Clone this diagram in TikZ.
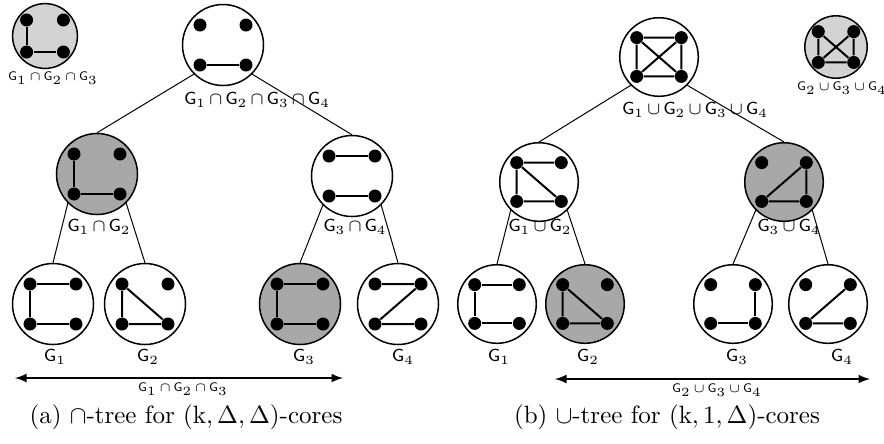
\documentclass[tikz,border=0pt]{standalone}
\usepackage{tikz}
\usetikzlibrary{arrows,calc}
\usepackage{amssymb}
\usepackage{amsmath}
\definecolor{lightcore}{RGB}{211,211,211}
\definecolor{darkcore}{RGB}{168,168,168}
\tikzset{
  core/.style={circle,draw,semithick,inner sep=0pt},
  dot/.style={circle,fill=black,inner sep=0pt,minimum size=5.2pt},
  gedge/.style={thick},
  tedge/.style={thin},
  lbl/.style={inner sep=1pt,font=\fontsize{7.3}{8}\selectfont},
  slbl/.style={inner sep=1pt,font=\fontsize{5.1}{6}\selectfont},
  captext/.style={inner sep=1pt,font=\fontsize{10}{12}\selectfont}
}
\newcommand{\icap}{\mskip2.5mu{\cap}\mskip2.5mu}
\newcommand{\icup}{\mskip2.5mu{\cup}\mskip2.5mu}
% circle with four vertices #1a (top left), #1b, #1c, #1d (bottom right)
\newcommand{\coregraph}[4]{%
  \node[core,fill=#3,minimum size=#4*32.4pt] (#1) at (#2) {};
  \foreach \p/\dx/\dy in {a/-1/-1,b/1/-1,c/-1/1,d/1/1}
    \node[dot] (#1\p) at ($(#1)+(\dx*23*#4,\dy*20*#4)$) {};
}
\begin{document}
\begin{tikzpicture}[x=0.4pt,y=-0.4pt]
\useasboundingbox (0,0) rectangle (884,443);

% (a) intersection tree
\coregraph{t}{45,36}{lightcore}{0.8}
\draw[gedge] (ta) -- (tc) -- (td);
\node[slbl] (tl) at (53,78) {$\mathsf{G}_1\icap\mathsf{G}_2\icap\mathsf{G}_3$};

\coregraph{r}{223,45}{white}{1}
\draw[gedge] (rc) -- (rd);
\node[lbl,anchor=west] (rl) at (181,100) {$\mathsf{G}_1\icap\mathsf{G}_2\icap\mathsf{G}_3\icap\mathsf{G}_4$};

\coregraph{l}{97,174}{darkcore}{1}
\draw[gedge] (la) -- (lc) -- (ld);
\node[lbl] (ll) at (99,227) {$\mathsf{G}_1\icap\mathsf{G}_2$};

\coregraph{m}{352,176}{white}{1}
\draw[gedge] (ma) -- (mb);
\draw[gedge] (mc) -- (md);
\node[lbl] (ml) at (355,227) {$\mathsf{G}_3\icap\mathsf{G}_4$};

\coregraph{ga}{53,304}{white}{1}
\draw[gedge] (gab) -- (gaa) -- (gac) -- (gad);
\node[lbl] (gal) at (55,357) {$\mathsf{G}_1$};
\coregraph{gb}{145,304}{white}{1}
\draw[gedge] (gbd) -- (gba) -- (gbc) -- (gbd);
\node[lbl] (gbl) at (148,357) {$\mathsf{G}_2$};
\coregraph{gc}{300,304}{darkcore}{1}
\draw[gedge] (gcb) -- (gca) -- (gcc) -- (gcd);
\node[lbl] (gcl) at (304,357) {$\mathsf{G}_3$};
\coregraph{gd}{398,304}{white}{1}
\draw[gedge] (gda) -- (gdb) -- (gdc) -- (gdd);
\node[lbl] (gdl) at (403,357) {$\mathsf{G}_4$};

\draw[tedge] (r.south west) -- (l.north);
\draw[tedge] (r.south east) -- (m.north);
\draw[tedge] (l.south west) -- (ga.north);
\draw[tedge] (l.south east) -- (gb.north);
\draw[tedge] (m.south west) -- (gc.north);
\draw[tedge] (m.south east) -- (gd.north);

\coordinate (aa) at (15,378);
\coordinate (ab) at (343,378);
\draw[semithick,<->,>=latex] (aa) -- (ab);
\node[slbl] (al) at (183,389) {$\mathsf{G}_1\icap\mathsf{G}_2\icap\mathsf{G}_3$};
\node[captext] (capa) at (186,417) {(a) $\cap$-tree for $(\mathrm{k},\Delta,\Delta)$-cores};

% (b) union tree
\coregraph{s}{836,47}{lightcore}{0.77}
\draw[gedge] (sa) -- (sc) -- (sd) -- (sb) -- (sc);
\draw[gedge] (sa) -- (sd);
\node[slbl] (sl) at (842,88) {$\mathsf{G}_2\icup\mathsf{G}_3\icup\mathsf{G}_4$};

\coregraph{ur}{659,57}{white}{0.97}
\draw[gedge] (ura) -- (urb) -- (urd) -- (urc) -- (ura) -- (urd);
\draw[gedge] (urb) -- (urc);
\node[lbl,anchor=west] (url) at (619,110) {$\mathsf{G}_1\icup\mathsf{G}_2\icup\mathsf{G}_3\icup\mathsf{G}_4$};

\coregraph{ul}{539,182}{white}{0.97}
\draw[gedge] (ulb) -- (ula) -- (ulc) -- (uld) -- (ula);
\node[lbl] (ull) at (540,227) {$\mathsf{G}_1\icup\mathsf{G}_2$};

\coregraph{um}{784,182}{darkcore}{0.97}
\draw[gedge] (umb) -- (umd) -- (umc) -- (umb);
\node[lbl] (uml) at (789,227) {$\mathsf{G}_3\icup\mathsf{G}_4$};

\coregraph{ha}{497,304}{white}{0.97}
\draw[gedge] (hab) -- (haa) -- (hac) -- (had);
\node[lbl] (hal) at (499,357) {$\mathsf{G}_1$};
\coregraph{hb}{585,304}{darkcore}{0.97}
\draw[gedge] (hbd) -- (hba) -- (hbc) -- (hbd);
\node[lbl] (hbl) at (588,357) {$\mathsf{G}_2$};
\coregraph{hc}{733,304}{white}{0.97}
\draw[gedge] (hcb) -- (hcd) -- (hcc);
\node[lbl] (hcl) at (737,357) {$\mathsf{G}_3$};
\coregraph{hd}{828,304}{white}{0.97}
\draw[gedge] (hdb) -- (hdc) -- (hdd);
\node[lbl] (hdl) at (842,357) {$\mathsf{G}_4$};

\draw[tedge] (ur.south west) -- (ul.north);
\draw[tedge] (ur.south east) -- (um.north);
\draw[tedge] (ul.south west) -- (ha.north);
\draw[tedge] (ul.south east) -- (hb.north);
\draw[tedge] (um.south west) -- (hc.north);
\draw[tedge] (um.south east) -- (hd.north);

\coordinate (ba) at (555,379);
\coordinate (bb) at (870,379);
\draw[semithick,<->,>=latex] (ba) -- (bb);
\node[slbl] (bl) at (717,390) {$\mathsf{G}_2\icup\mathsf{G}_3\icup\mathsf{G}_4$};
\node[captext] (capb) at (667,417) {(b) $\cup$-tree for $(\mathrm{k},1,\Delta)$-cores};
\end{tikzpicture}
\end{document}
